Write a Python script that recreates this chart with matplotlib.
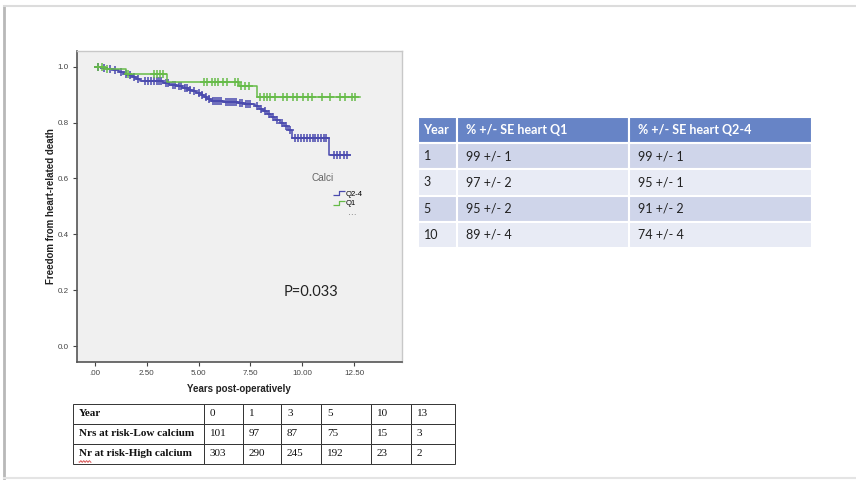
import numpy as np
import matplotlib
matplotlib.use("Agg")
import matplotlib.pyplot as plt
from matplotlib.lines import Line2D
from matplotlib.path import Path

# --- Kaplan-Meier data (years, survival) ---
q1_times = [0, 0.5, 1.5, 3.5, 6.95, 7.8]
q1_surv = [1.0, 0.99, 0.973, 0.946, 0.932, 0.893]
q1_end = 12.77
q1_censor = [0.15, 0.35, 0.6, 1.6, 2.84, 2.99, 3.15, 3.31, 5.24, 5.40, 5.64, 5.8,
             5.96, 6.2, 6.36, 6.76, 6.92, 7.05, 7.25, 7.45, 7.97, 8.13, 8.29, 8.45,
             8.69, 9.09, 9.25, 9.57, 9.73, 10.05, 10.29, 10.45, 10.93, 11.33,
             11.81, 12.05, 12.37, 12.53]

q24_times = [0, 0.3, 0.6, 0.9, 1.15, 1.4, 1.6, 1.8, 2.0, 2.2, 3.3, 3.6, 3.9, 4.2,
             4.5, 4.7, 4.9, 5.1, 5.25, 5.4, 5.6, 6.2, 6.9, 7.2, 7.7, 7.9, 8.1, 8.3,
             8.5, 8.7, 8.9, 9.1, 9.3, 9.5, 11.3]
q24_surv = [1.0, 0.996, 0.992, 0.988, 0.981, 0.975, 0.969, 0.962, 0.955, 0.948,
            0.942, 0.936, 0.930, 0.924, 0.918, 0.912, 0.905, 0.897, 0.890, 0.884,
            0.877, 0.873, 0.869, 0.865, 0.858, 0.849, 0.840, 0.830, 0.820, 0.810,
            0.798, 0.786, 0.772, 0.745, 0.682]
q24_end = 12.3
q24_censor = [0.15, 0.45, 0.75, 1.0, 1.25, 1.5, 1.7, 1.9, 2.1, 2.4, 2.55, 2.7, 2.85,
              3.0, 3.1, 3.2, 3.45, 3.55, 3.75, 3.85, 4.05, 4.15, 4.35, 4.45, 4.6,
              4.8, 5.0, 5.15, 5.35, 5.5, 5.7, 5.8, 5.9, 6.0, 6.1, 6.3, 6.4, 6.5,
              6.6, 6.7, 6.8, 7.0, 7.1, 7.3, 7.4, 7.5, 7.8, 8.0, 8.2, 8.4, 8.6, 8.8,
              9.0, 9.2, 9.4, 9.65, 9.8, 9.95, 10.1, 10.2, 10.35, 10.5, 10.6, 10.75,
              10.9, 11.05, 11.15, 11.5, 11.65, 11.8, 12.0, 12.15]

x_ticks = [0, 2.5, 5, 7.5, 10, 12.5]
x_ticklabels = [".00", "2.50", "5.00", "7.50", "10.00", "12.50"]
y_ticks = [0.0, 0.2, 0.4, 0.6, 0.8, 1.0]

# --- survival table (right) ---
se_header = ["Year", "% +/- SE heart Q1", "% +/- SE heart Q2-4"]
se_years = ["1", "3", "5", "10"]
se_q1 = ["99 +/- 1", "97 +/- 2", "95 +/- 2", "89 +/- 4"]
se_q24 = ["99 +/- 1", "95 +/- 1", "91 +/- 2", "74 +/- 4"]

# --- numbers at risk (bottom) ---
risk_years = ["0", "1", "3", "5", "10", "13"]
risk_low = ["101", "97", "87", "75", "15", "3"]
risk_high = ["303", "290", "245", "192", "23", "2"]

BLUE = "#4a4aae"
GREEN = "#66bb48"

W, H = 856, 483
fig = plt.figure(figsize=(W / 100, H / 100), dpi=100)
fig.patch.set_facecolor("white")


def px_axes(x0, y0, x1, y1):
    # axes from pixel box (top-left origin)
    return fig.add_axes([x0 / W, 1 - y1 / H, (x1 - x0) / W, (y1 - y0) / H])


# slide border
fig.add_artist(Line2D([4 / W, 4 / W], [1 - 6 / H, 1 - 478 / H], color="#b8b8b8", lw=2))
fig.add_artist(Line2D([4 / W, 1], [1 - 6 / H, 1 - 6 / H], color="#dcdcdc", lw=1.5))
fig.add_artist(Line2D([4 / W, 1], [1 - 478 / H, 1 - 478 / H], color="#e4e4e4", lw=1.5))

# --- KM plot ---
ax = px_axes(77, 50.7, 401.7, 361.7)
ax.set_facecolor("#f0f0f0")
ax.set_xlim(-0.85, 14.78)
ax.set_ylim(-0.056, 1.057)


def draw_km(times, surv, end, censor, color):
    t = np.append(times, end)
    s = np.append(surv, surv[-1])
    ax.step(t, s, where="post", color=color, lw=1.1)
    idx = np.searchsorted(times, censor, side="right") - 1
    cy = np.asarray(surv)[idx]
    ax.plot(censor, cy, linestyle="none", marker="+", ms=5.5, mew=1.1, color=color)


draw_km(q24_times, q24_surv, q24_end, q24_censor, BLUE)
draw_km(q1_times, q1_surv, q1_end, q1_censor, GREEN)

ax.set_xticks(x_ticks)
ax.set_xticklabels(x_ticklabels)
ax.set_yticks(y_ticks)
ax.set_yticklabels([f"{v:.1f}" for v in y_ticks])
ax.tick_params(labelsize=5.8, colors="#444444", length=3, width=0.8, pad=3)
for lab in ax.get_xticklabels() + ax.get_yticklabels():
    lab.set_family("Liberation Sans")
for side in ["left", "bottom"]:
    ax.spines[side].set_color("#555555")
    ax.spines[side].set_linewidth(1.2)
for side in ["top", "right"]:
    ax.spines[side].set_color("#c8c8c8")
    ax.spines[side].set_linewidth(1.0)

ax.set_xlabel("Years post-operatively", family="Liberation Sans", weight="bold",
              fontsize=7, color="#222222", labelpad=5)
ax.set_ylabel("Freedom from heart-related death", family="Liberation Sans",
              weight="bold", fontsize=7, color="#222222", labelpad=1)

ax.text(10.4, 0.194, "P=0.033", family="Lato", fontsize=10.5, color="#222222",
        ha="center", va="center")

# legend with small step glyphs
step_glyph = Path([(-1, -0.3), (0, -0.3), (0, 0.3), (1, 0.3)],
                  [Path.MOVETO, Path.LINETO, Path.LINETO, Path.LINETO])
handles = [Line2D([], [], linestyle="none", marker=step_glyph, ms=9, mew=0.9,
                  mec=BLUE, mfc="none"),
           Line2D([], [], linestyle="none", marker=step_glyph, ms=9, mew=0.9,
                  mec=GREEN, mfc="none")]
ax.legend(handles, ["Q2-4", "Q1"], loc="upper left", bbox_to_anchor=(0.795, 0.55),
          frameon=False, handlelength=1.1, handletextpad=0.25,
          labelspacing=0.25, borderpad=0, borderaxespad=0,
          prop={"family": "Liberation Sans", "size": 5.5})
ax.text(0.755, 0.591, "Calci", transform=ax.transAxes, family="Liberation Sans",
        fontsize=7.2, color="#666666", ha="center", va="center")
ax.text(0.848, 0.48, "...", transform=ax.transAxes, family="Liberation Sans",
        fontsize=7.5, color="#777777", ha="center", va="center")

# --- SE table on the right ---
tax = px_axes(417.5, 117, 811.7, 248)
tax.axis("off")
se_rows = [[y, a, b] for y, a, b in zip(se_years, se_q1, se_q24)]
se_colw = [40, 172, 183]
tbl = tax.table(cellText=se_rows, colLabels=se_header, colWidths=se_colw,
                cellLoc="left", colLoc="left", bbox=[0, 0, 1, 1])
tbl.auto_set_font_size(False)
for (r, c), cell in tbl.get_celld().items():
    cell.set_edgecolor("white")
    cell.set_linewidth(1.5)
    cell.PAD = 6 / se_colw[c] if c == 0 else 9 / se_colw[c]
    txt = cell.get_text()
    txt.set_family("Lato")
    txt.set_fontsize(9)
    if r == 0:
        cell.set_facecolor("#6784c6")
        txt.set_color("white")
        txt.set_weight("bold")
    else:
        cell.set_facecolor("#cfd5ea" if r % 2 == 1 else "#e8ebf5")
        txt.set_color("#222222")

# --- numbers at risk table (bottom) ---
bax = px_axes(73, 404, 455, 464)
bax.set_xlim(0, 382)
bax.set_ylim(60, 0)
bax.axis("off")
risk_rows = [["Year"] + risk_years,
             ["Nrs at risk-Low calcium"] + risk_low,
             ["Nr at risk-High calcium"] + risk_high]
risk_colw = [131, 39, 38, 40, 50, 40, 44]
btbl = bax.table(cellText=risk_rows, colWidths=risk_colw, cellLoc="left",
                 bbox=[0, 0, 1, 1])
btbl.auto_set_font_size(False)
for (r, c), cell in btbl.get_celld().items():
    cell.set_edgecolor("#333333")
    cell.set_linewidth(0.7)
    cell.PAD = 6 / risk_colw[c]
    txt = cell.get_text()
    txt.set_family("Liberation Serif")
    txt.set_fontsize(8)
    txt.set_color("#111111")
    if c == 0:
        txt.set_weight("bold")

# spell-check squiggle under "Nr"
sq = np.linspace(6, 18, 40)
bax.plot(sq, 57.5 + 0.8 * np.sin(sq * 2.2), color="#d23c3c", lw=0.6, clip_on=False)

fig.savefig("out.png", dpi=100, facecolor="white")
